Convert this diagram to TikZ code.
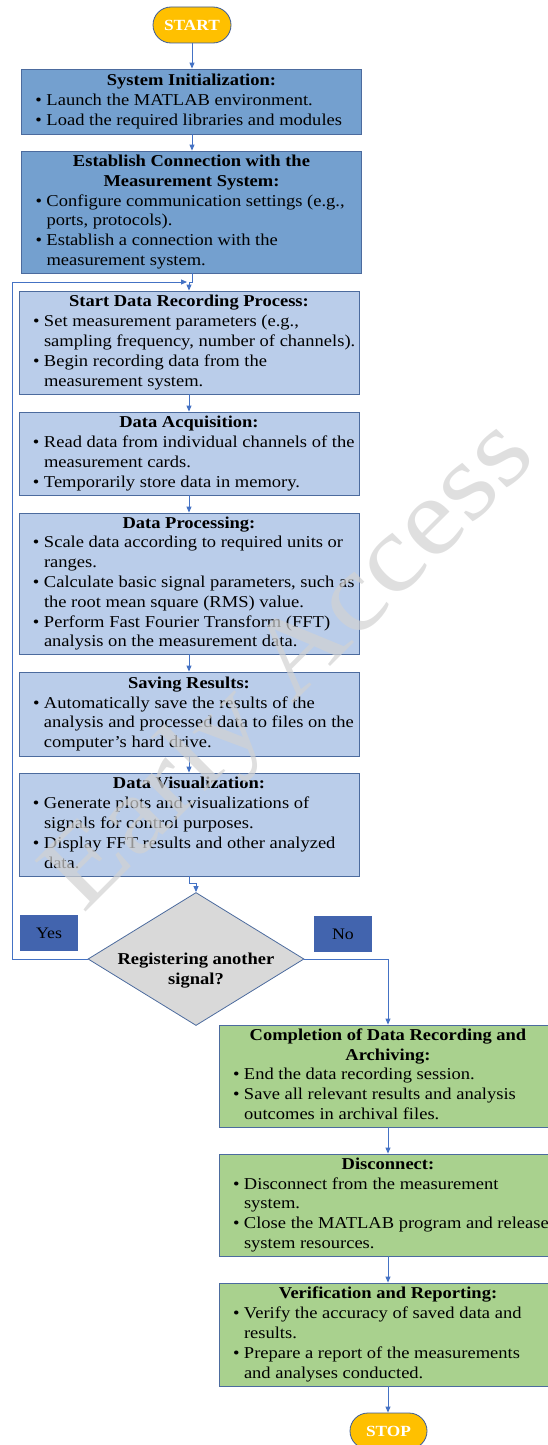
\documentclass[tikz,border=0pt]{standalone}
\usepackage{fontspec}
\setmainfont[FakeStretch=1.115]{Liberation Serif}
\usetikzlibrary{shapes.geometric,arrows.meta}
\definecolor{linec}{HTML}{4472C4}
\definecolor{bordc}{HTML}{4C6B9E}
\definecolor{darkfill}{HTML}{74A0CF}
\definecolor{lightfill}{HTML}{BACDEA}
\definecolor{greenfill}{HTML}{A9D18E}
\definecolor{diafill}{HTML}{D9D9D9}
\definecolor{yesfill}{HTML}{4264AE}
\definecolor{startfill}{HTML}{FFC000}
\definecolor{startbord}{HTML}{3B5C99}
\definecolor{wmc}{HTML}{D2D2D2}
\newlength{\bulw}\setlength{\bulw}{11pt}
\newcommand{\ttl}[1]{{\centering\strut\textbf{#1}\strut\par}}
\newcommand{\bit}[1]{\par\noindent\makebox[\bulw][l]{\textbullet}\mbox{\strut#1}\par}
\newcommand{\cnt}[1]{\par\noindent\hspace*{\bulw}\mbox{\strut#1}\par}
\newcommand{\boxc}[2]{\begin{minipage}{#1}#2\end{minipage}}
\begin{document}
\begin{tikzpicture}[x=1pt,y=-1pt,
  font=\fontsize{16.6}{19.8}\selectfont,
  pbox/.style={draw=bordc, line width=0.8pt, rectangle, minimum height=#1,
    inner xsep=14pt, inner ysep=0pt, anchor=center},
  topbox/.style={pbox=#1, fill=darkfill, minimum width=340pt},
  midbox/.style={pbox=#1, fill=lightfill, minimum width=340pt},
  endbox/.style={pbox=#1, fill=greenfill, minimum width=338pt},
  pill/.style={draw=startbord, line width=0.8pt, fill=startfill, rounded corners=18pt,
    minimum width=#1, minimum height=36pt, inner sep=0pt, text=white,
    font=\fontsize{15.5}{18}\selectfont\bfseries},
  answer/.style={fill=yesfill, minimum width=58pt, minimum height=36pt, inner sep=0pt,
    text=black, font=\fontsize{16}{18}\selectfont},
  arr/.style={draw=linec, line width=0.9pt, -{Triangle[length=6pt,width=5pt]}},
  ]
\useasboundingbox (0,0) rectangle (547,1445);

\node[pill=78pt] (start) at (192,25) {START};

\node[topbox=65pt] (b1) at (191.5,101.5) {\boxc{312pt}{%
  \ttl{System Initialization:}
  \bit{Launch the MATLAB environment.}
  \bit{Load the required libraries and modules}}};

\node[topbox=122pt] (b2) at (191.5,212) {\boxc{312pt}{%
  \ttl{Establish Connection with the\\Measurement System:}
  \bit{Configure communication settings (e.g.,}
  \cnt{ports, protocols).}
  \bit{Establish a connection with the}
  \cnt{measurement system.}}};

\node[midbox=103pt] (b3) at (189,342.5) {\boxc{312pt}{%
  \ttl{Start Data Recording Process:}
  \bit{Set measurement parameters (e.g.,}
  \cnt{sampling frequency, number of channels).}
  \bit{Begin recording data from the}
  \cnt{measurement system.}}};

\node[midbox=83pt] (b4) at (189,453.5) {\boxc{312pt}{%
  \ttl{Data Acquisition:}
  \bit{Read data from individual channels of the}
  \cnt{measurement cards.}
  \bit{Temporarily store data in memory.}}};

\node[midbox=141pt] (b5) at (189,583.5) {\boxc{312pt}{%
  \ttl{Data Processing:}
  \bit{Scale data according to required units or}
  \cnt{ranges.}
  \bit{Calculate basic signal parameters, such as}
  \cnt{the root mean square (RMS) value.}
  \bit{Perform Fast Fourier Transform (FFT)}
  \cnt{analysis on the measurement data.}}};

\node[midbox=84pt] (b6) at (189,714) {\boxc{312pt}{%
  \ttl{Saving Results:}
  \bit{Automatically save the results of the}
  \cnt{analysis and processed data to files on the}
  \cnt{computer’s hard drive.}}};

\node[midbox=103pt] (b7) at (189,824.5) {\boxc{312pt}{%
  \ttl{Data Visualization:}
  \bit{Generate plots and visualizations of}
  \cnt{signals for control purposes.}
  \bit{Display FFT results and other analyzed}
  \cnt{data.}}};

\node[diamond, draw=bordc, line width=0.8pt, fill=diafill, minimum width=216pt,
  minimum height=133pt, inner sep=0pt] (dec) at (196,959)
  {\raisebox{-16pt}[0pt][0pt]{\makebox[0pt]{\bfseries\begin{tabular}{@{}c@{}}Registering another\\signal?\end{tabular}}}};

\node[answer] (yes) at (49,933) {Yes};
\node[answer] (no) at (343,934) {No};

\node[endbox=102pt] (b8) at (388,1076) {\boxc{310pt}{%
  \ttl{Completion of Data Recording and\\Archiving:}
  \bit{End the data recording session.}
  \bit{Save all relevant results and analysis}
  \cnt{outcomes in archival files.}}};

\node[endbox=102pt] (b9) at (388,1205) {\boxc{310pt}{%
  \ttl{Disconnect:}
  \bit{Disconnect from the measurement}
  \cnt{system.}
  \bit{Close the MATLAB program and release}
  \cnt{system resources.}}};

\node[endbox=103pt] (b10) at (388,1334.5) {\boxc{310pt}{%
  \ttl{Verification and Reporting:}
  \bit{Verify the accuracy of saved data and}
  \cnt{results.}
  \bit{Prepare a report of the measurements}
  \cnt{and analyses conducted.}}};

\node[pill=77pt] (stop) at (388.5,1431) {STOP};

\coordinate (lp1) at (12,959);
\coordinate (lp2) at (12,282);
\coordinate (lp3) at (187,282);

\draw[arr] (start.south) -- (start.south |- b1.north);
\draw[arr] (b1.south -| start.south) -- (start.south |- b2.north);
\draw[arr] (b2.south -| start.south) -- ++(0,9) -| (b3.north);
\draw[arr] (b3.south) -- (b4.north);
\draw[arr] (b4.south) -- (b5.north);
\draw[arr] (b5.south) -- (b6.north);
\draw[arr] (b6.south) -- (b7.north);
\draw[arr] (b7.south) -- ++(0,7) -| (dec.north);
\draw[arr] (dec.west) -- (lp1) -- (lp2) -- (lp3);
\draw[arr] (dec.east) -| (b8.north);
\draw[arr] (b8.south) -- (b9.north);
\draw[arr] (b9.south) -- (b10.north);
\draw[arr] (b10.south) -- (b10.south |- stop.north);

\node[rotate=45, text=wmc, opacity=0.7, inner sep=0pt,
  font=\fontsize{110}{112}\selectfont] (wm) at (292,668) {Early Access};
\end{tikzpicture}
\end{document}
